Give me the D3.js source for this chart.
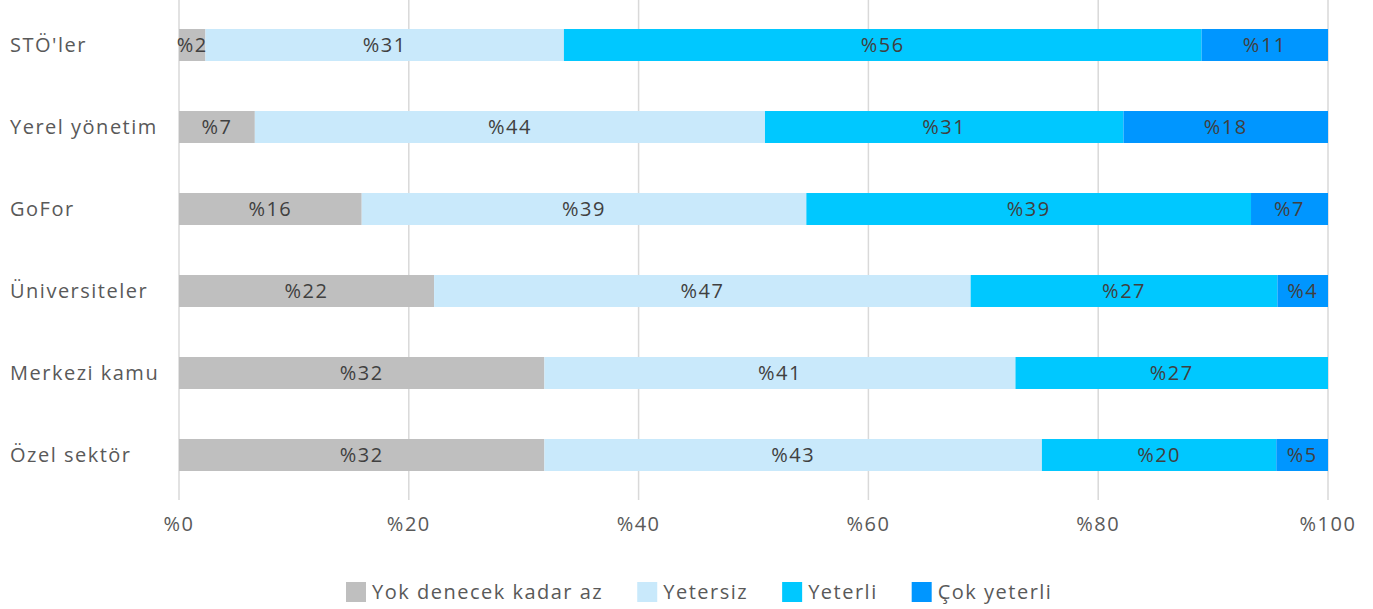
<!DOCTYPE html>
<html>
<head>
<meta charset="utf-8">
<script src="https://cdn.jsdelivr.net/npm/d3@7"></script>
<style>
  body { margin: 0; background: #fff; }
  svg { display: block; font-family: "Open Sans", sans-serif; letter-spacing: 1.5px; }
</style>
</head>
<body>
<svg id="chart"></svg>
<script>
var categories = ["STÖ'ler", "Yerel yönetim", "GoFor", "Üniversiteler", "Merkezi kamu", "Özel sektör"];
var seriesNames = ["Yok denecek kadar az", "Yetersiz", "Yeterli", "Çok yeterli"];
var yokAz    = [2.3, 6.6, 15.9, 22.2, 31.8, 31.8];
var yetersiz = [31.2, 44.4, 38.7, 46.7, 41.0, 43.3];
var yeterli  = [55.5, 31.2, 38.7, 26.7, 27.2, 20.4];
var cokYet   = [11.0, 17.8, 6.7, 4.4, 0, 4.5];
var ticks = [0, 20, 40, 60, 80, 100];
var colors = ["#bfbfbf", "#c9e9fb", "#00c8ff", "#0096ff"];

var W = 1373, H = 609;
var svg = d3.select("#chart").attr("width", W).attr("height", H);

var x = d3.scaleLinear().domain([0, 100]).range([179, 1328]);
var y = d3.scaleBand().domain(categories).range([4, 496]).paddingInner(0.61).paddingOuter(0.305);

// rows of the stack
var rows = categories.map(function(c, i) {
  return { cat: c, s0: yokAz[i], s1: yetersiz[i], s2: yeterli[i], s3: cokYet[i] };
});
var stack = d3.stack().keys(["s0", "s1", "s2", "s3"])(rows);

// grid
svg.append("g").selectAll("line").data(ticks).join("line")
  .attr("x1", d => x(d)).attr("x2", d => x(d))
  .attr("y1", 0).attr("y2", 500)
  .attr("stroke", "#d9d9d9").attr("stroke-width", 1.5);

// bars
var layers = svg.append("g").selectAll("g").data(stack).join("g")
  .attr("fill", (d, i) => colors[i]);

layers.selectAll("rect").data(d => d).join("rect")
  .attr("x", d => x(d[0]))
  .attr("y", d => y(d.data.cat))
  .attr("width", d => x(d[1]) - x(d[0]))
  .attr("height", y.bandwidth());

// value labels
var labels = svg.append("g");
stack.forEach(function(layer) {
  layer.forEach(function(d) {
    var v = d[1] - d[0];
    if (v <= 0) return;
    labels.append("text")
      .attr("x", (x(d[0]) + x(d[1])) / 2)
      .attr("y", y(d.data.cat) + y.bandwidth() / 2)
      .attr("dy", "0.35em")
      .attr("text-anchor", "middle")
      .attr("font-size", 20)
      .attr("fill", "#404040")
      .text("%" + Math.round(v));
  });
});

// category labels
svg.append("g").selectAll("text").data(categories).join("text")
  .attr("x", 10)
  .attr("y", d => y(d) + y.bandwidth() / 2)
  .attr("dy", "0.35em")
  .attr("font-size", 20)
  .attr("fill", "#595959")
  .text(d => d);

// x axis labels
svg.append("g").selectAll("text").data(ticks).join("text")
  .attr("x", d => x(d))
  .attr("y", 531)
  .attr("text-anchor", "middle")
  .attr("font-size", 20)
  .attr("fill", "#595959")
  .text(d => "%" + d);

// legend
var legend = svg.append("g");
var lx = 346;
seriesNames.forEach(function(name, i) {
  legend.append("rect")
    .attr("x", lx).attr("y", 582).attr("width", 20).attr("height", 20)
    .attr("fill", colors[i]);
  var t = legend.append("text")
    .attr("x", lx + 26).attr("y", 592).attr("dy", "0.35em")
    .attr("font-size", 20).attr("fill", "#595959")
    .text(name);
  lx += 26 + t.node().getComputedTextLength() + 34;
});
</script>
</body>
</html>
